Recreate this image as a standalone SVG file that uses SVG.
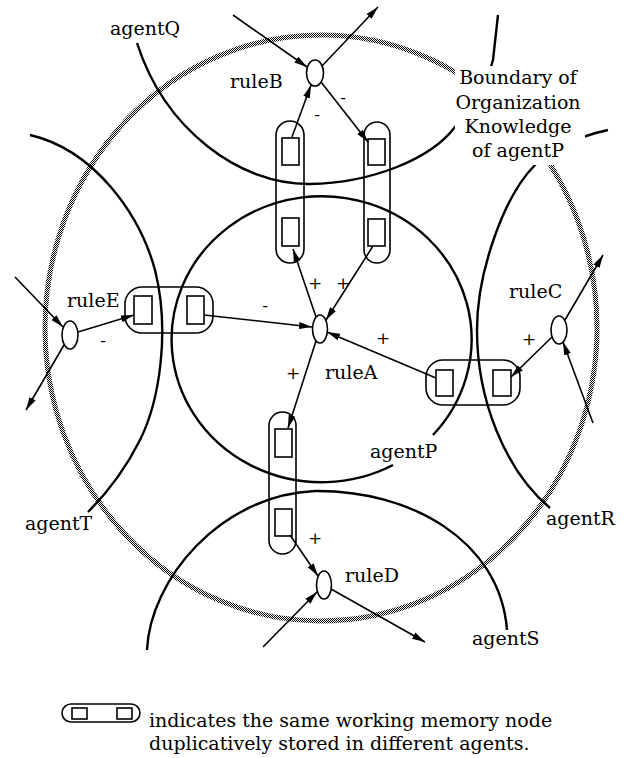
<svg xmlns="http://www.w3.org/2000/svg" width="625" height="758" viewBox="0 0 625 758">
<defs>
<pattern id="chk" width="2" height="2" patternUnits="userSpaceOnUse"><rect x="0" y="0" width="1" height="1" fill="#000"/><rect x="1" y="1" width="1" height="1" fill="#000"/></pattern>
<marker id="ah" markerWidth="14" markerHeight="8" refX="13" refY="4" orient="auto" markerUnits="userSpaceOnUse"><path d="M0,0.5 L13,4 L0,7.5 z" fill="#000"/></marker>
</defs>
<style>
.agent{fill:none;stroke:#000;stroke-width:2.4}
.bound{fill:none;stroke:url(#chk);stroke-width:5}
.cap{fill:none;stroke:#000;stroke-width:1.6}
.sq{fill:#fff;stroke:#000;stroke-width:1.6}
.rule{fill:#fff;stroke:#000;stroke-width:1.6}
.conn line{stroke:#000;stroke-width:1.6;marker-end:url(#ah)}
.lbl{font-family:"DejaVu Serif",serif;font-size:19px;fill:#000}
.sgn{font-family:"DejaVu Serif",serif;font-size:17px;fill:#000;text-anchor:middle;dominant-baseline:central}
</style>
<rect width="625" height="758" fill="#fff"/>

<g id="boundary">
<ellipse class="bound" cx="321" cy="328" rx="276" ry="293"/>
</g>

<g id="agentQ">
<path class="agent" d="M137,43 C165,130 240,185 310,184 C370,183 430,160 455,127 C472,105 488,80 493,60 L498,15"/>
<text class="lbl" x="110" y="35">agentQ</text>
</g>
<g id="agentT">
<path class="agent" d="M30,135 C95,150 140,215 155,270 C170,330 160,400 140,440 C125,470 105,495 88,512"/>
<text class="lbl" x="25" y="530">agentT</text>
</g>
<g id="agentR">
<path class="agent" d="M608,130 C575,137 548,152 535,165 C505,195 477,270 477,330 C477,400 505,470 550,508"/>
<text class="lbl" x="546" y="525">agentR</text>
</g>
<g id="agentS">
<path class="agent" d="M147,650 C150,580 220,495 315,491 C410,490 500,540 507,630"/>
<text class="lbl" x="472" y="645">agentS</text>
</g>
<g id="agentP">
<path class="agent" d="M393,465 A150,143 0 1 1 433,435"/>
<text class="lbl" x="370" y="458">agentP</text>
</g>

<g id="boundary-label">
<rect x="455" y="66" width="130" height="99" fill="#fff"/>
<text class="lbl" text-anchor="middle"><tspan x="518" y="84">Boundary of</tspan><tspan x="518" y="109">Organization</tspan><tspan x="518" y="133">Knowledge</tspan><tspan x="518" y="157">of agentP</tspan></text>
</g>

<g id="wm-QP1">
<rect class="cap" x="276" y="121" width="28" height="142" rx="14"/>
<rect class="sq" x="282" y="138" width="17" height="27"/>
<rect class="sq" x="282" y="218" width="17" height="28"/>
</g>
<g id="wm-QP2">
<rect class="cap" x="364" y="122" width="26" height="141" rx="13"/>
<rect class="sq" x="368" y="139" width="17" height="26"/>
<rect class="sq" x="368" y="219" width="17" height="27"/>
</g>
<g id="wm-TP">
<rect class="cap" x="125" y="287" width="88" height="46" rx="17"/>
<rect class="sq" x="134" y="296" width="18" height="28"/>
<rect class="sq" x="187" y="296" width="17" height="28"/>
</g>
<g id="wm-PR">
<rect class="cap" x="426" y="360" width="94" height="45" rx="17"/>
<rect class="sq" x="436" y="370" width="17" height="26"/>
<rect class="sq" x="493" y="370" width="18" height="26"/>
</g>
<g id="wm-PS">
<rect class="cap" x="269" y="412" width="27" height="142" rx="13.5"/>
<rect class="sq" x="275" y="429" width="17" height="28"/>
<rect class="sq" x="275" y="509" width="17" height="27"/>
</g>

<g id="connectors" class="conn">
<line x1="233" y1="15" x2="307" y2="67"/>
<line x1="322" y1="66" x2="378" y2="7"/>
<line x1="321" y1="82" x2="368" y2="142"/>
<line x1="292" y1="137" x2="311" y2="85"/>
<line x1="316" y1="317" x2="293" y2="249"/>
<line x1="373" y1="246" x2="326" y2="320"/>
<line x1="204" y1="315" x2="312" y2="327"/>
<line x1="78" y1="332" x2="134" y2="315"/>
<line x1="15" y1="277" x2="63" y2="327"/>
<line x1="64" y1="345" x2="26" y2="410"/>
<line x1="436" y1="378" x2="327" y2="332"/>
<line x1="552" y1="337" x2="511" y2="377"/>
<line x1="565" y1="320" x2="603" y2="255"/>
<line x1="593" y1="423" x2="563" y2="342"/>
<line x1="316" y1="341" x2="288" y2="428"/>
<line x1="290" y1="535" x2="318" y2="576"/>
<line x1="263" y1="647" x2="317" y2="592"/>
<line x1="331" y1="589" x2="425" y2="642"/>
</g>

<g id="signs">
<text class="sgn" x="343" y="97">-</text>
<text class="sgn" x="317" y="114">-</text>
<text class="sgn" x="315" y="283">+</text>
<text class="sgn" x="343" y="283">+</text>
<text class="sgn" x="265" y="305">-</text>
<text class="sgn" x="103" y="340">-</text>
<text class="sgn" x="383" y="338">+</text>
<text class="sgn" x="529" y="339">+</text>
<text class="sgn" x="293" y="373">+</text>
<text class="sgn" x="315" y="538">+</text>
</g>

<g id="ruleA">
<ellipse class="rule" cx="320" cy="329" rx="7.5" ry="14"/>
<text class="lbl" x="325" y="379">ruleA</text>
</g>
<g id="ruleB">
<ellipse class="rule" cx="315" cy="73" rx="8.5" ry="13"/>
<text class="lbl" x="230" y="88">ruleB</text>
</g>
<g id="ruleC">
<ellipse class="rule" cx="559" cy="330" rx="8" ry="14"/>
<text class="lbl" x="509" y="298">ruleC</text>
</g>
<g id="ruleD">
<ellipse class="rule" cx="324" cy="585" rx="7.5" ry="14"/>
<text class="lbl" x="345" y="582">ruleD</text>
</g>
<g id="ruleE">
<ellipse class="rule" cx="70" cy="335" rx="8" ry="14"/>
<text class="lbl" x="67" y="307">ruleE</text>
</g>

<g id="legend">
<rect class="cap" x="62" y="704" width="78" height="18" rx="9"/>
<rect class="sq" x="72" y="708" width="15" height="11"/>
<rect class="sq" x="117" y="708" width="15" height="11"/>
<text class="lbl" x="149" y="727">indicates the same working memory node</text>
<text class="lbl" x="149" y="750">duplicatively stored in different agents.</text>
</g>
</svg>
